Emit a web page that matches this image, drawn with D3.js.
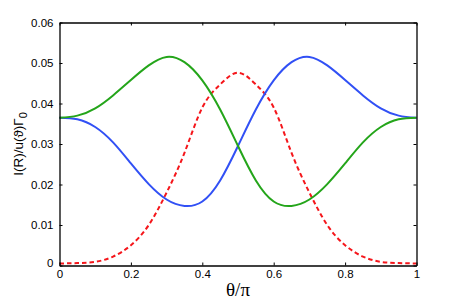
<!DOCTYPE html>
<html>
<head>
<meta charset="utf-8">
<script src="https://cdn.jsdelivr.net/npm/d3@7"></script>
<style>
  body { margin: 0; background: #fff; }
  svg { display: block; }
</style>
</head>
<body>
<script>
// theta / pi sample points
var theta = [0, 0.05, 0.1, 0.15, 0.2, 0.25, 0.3, 0.35, 0.4, 0.45, 0.5,
  0.55, 0.6, 0.65, 0.7, 0.75, 0.8, 0.85, 0.9, 0.95, 1];

// blue curve
var blueValues = [0.0365, 0.0361, 0.0342, 0.0304, 0.0252, 0.0201, 0.0163,
  0.0147, 0.0158, 0.0210, 0.0295, 0.0385, 0.0457, 0.0502, 0.0515, 0.0494,
  0.0458, 0.0420, 0.0388, 0.0370, 0.0365];

// green curve
var greenValues = [0.0365, 0.0370, 0.0388, 0.0420, 0.0458, 0.0494, 0.0515,
  0.0502, 0.0457, 0.0385, 0.0295, 0.0210, 0.0158, 0.0147, 0.0163, 0.0201,
  0.0252, 0.0304, 0.0342, 0.0361, 0.0365];

// red dashed curve
var redValues = [0.0005, 0.0006, 0.0009, 0.0022, 0.0050, 0.0100, 0.0180,
  0.0278, 0.0390, 0.0447, 0.0476, 0.0447, 0.0390, 0.0278, 0.0180, 0.0100,
  0.0050, 0.0022, 0.0009, 0.0006, 0.0005];

var xTicks = [0, 0.2, 0.4, 0.6, 0.8, 1];
var yTicks = [0, 0.01, 0.02, 0.03, 0.04, 0.05, 0.06];

drawChart();

function drawChart() {
  var width = 459;
  var height = 300;
  var margin = {left: 59.5, right: 42.5, top: 22.5, bottom: 34.5};
  var innerW = width - margin.left - margin.right;
  var innerH = height - margin.top - margin.bottom;

  var svg = d3
    .select('body')
    .append('svg')
    .attr('width', width)
    .attr('height', height);

  var x = d3.scaleLinear().domain([0, 1]).range([0, innerW]);
  var y = d3.scaleLinear().domain([0, 0.06]).range([innerH, 0]);

  var g = svg
    .append('g')
    .attr('transform', 'translate(' + margin.left + ',' + margin.top + ')');

  // curves
  var series = [
    {values: redValues, color: '#f5161b', dash: '4.5,3'},
    {values: blueValues, color: '#3150f5', dash: null},
    {values: greenValues, color: '#24a51a', dash: null},
  ];

  var line = d3
    .line()
    .x(function(d) {
      return x(d[0]);
    })
    .y(function(d) {
      return y(d[1]);
    })
    .curve(d3.curveNatural);

  g.append('g')
    .attr('fill', 'none')
    .selectAll('path')
    .data(series)
    .enter()
    .append('path')
    .attr('d', function(s) {
      return line(d3.zip(theta, s.values));
    })
    .attr('stroke', function(s) {
      return s.color;
    })
    .attr('stroke-width', 2)
    .attr('stroke-dasharray', function(s) {
      return s.dash;
    });

  // axes, ticks point inward
  var font = '"Liberation Sans", Arial, sans-serif';

  var xAxis = g
    .append('g')
    .attr('transform', 'translate(0,' + innerH + ')')
    .call(
      d3.axisBottom(x).tickValues(xTicks).tickSizeInner(-3).tickSizeOuter(0)
        .tickPadding(6)
        .tickFormat(d3.format('~g'))
    );
  var xTop = g
    .append('g')
    .call(
      d3.axisTop(x).tickValues(xTicks).tickSizeInner(-3).tickSizeOuter(0)
        .tickFormat('')
    );
  var yAxis = g
    .append('g')
    .call(
      d3.axisLeft(y).tickValues(yTicks).tickSizeInner(-3).tickSizeOuter(0)
        .tickPadding(6)
        .tickFormat(d3.format('~g'))
    );
  var yRight = g
    .append('g')
    .attr('transform', 'translate(' + innerW + ',0)')
    .call(
      d3.axisRight(y).tickValues(yTicks).tickSizeInner(-3).tickSizeOuter(0)
        .tickFormat('')
    );

  [xAxis, xTop, yAxis, yRight].forEach(function(a) {
    a.selectAll('path').attr('stroke', '#000').attr('stroke-width', 1.3);
    a.selectAll('line').attr('stroke', '#000').attr('stroke-width', 1);
    a.selectAll('text')
      .attr('fill', '#000')
      .style('font-family', font)
      .style('font-size', '11.5px');
  });

  // nudge the zero labels like the original
  xAxis.selectAll('text').attr('dy', '0.6em');
  yAxis.selectAll('.tick')
    .filter(function(d) {
      return d === 0;
    })
    .select('text')
    .attr('dy', '0.1em');

  // x title
  svg
    .append('text')
    .attr('x', margin.left + innerW / 2)
    .attr('y', 296)
    .attr('text-anchor', 'middle')
    .style('font-family', '"Liberation Serif", "DejaVu Serif", serif')
    .style('font-size', '19px')
    .text('θ/π');

  // y title
  var yTitle = svg
    .append('text')
    .attr('transform', 'translate(23,' + (margin.top + innerH / 2) + ') rotate(-90)')
    .attr('text-anchor', 'middle')
    .style('font-family', font)
    .style('font-size', '13.5px');
  yTitle.append('tspan').text('I(R)/u(ϑ)Γ');
  yTitle.append('tspan').attr('dy', '0.35em').style('font-size', '11px').text('0');
}
</script>
</body>
</html>
